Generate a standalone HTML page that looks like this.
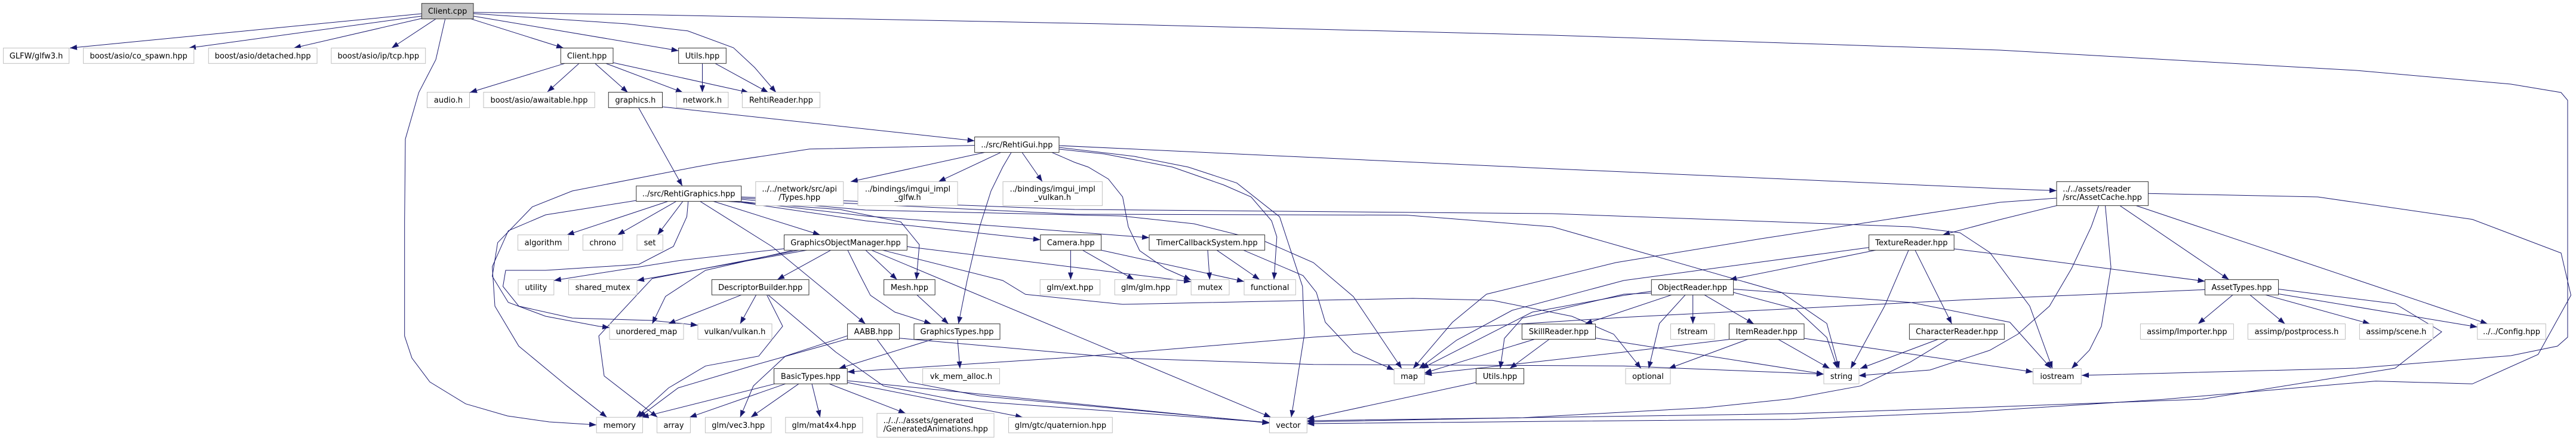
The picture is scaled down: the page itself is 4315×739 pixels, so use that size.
<!DOCTYPE html>
<html><head><meta charset="utf-8"><style>
html,body{margin:0;padding:0;background:#fff;}
svg{display:block;}
text{font-family:"DejaVu Sans","Liberation Sans",sans-serif;font-size:13px;fill:#000;}
.g{fill:#fff;stroke:#bfbfbf;stroke-width:1;}
.b{fill:#fff;stroke:#333;stroke-width:1;}
.e{fill:none;stroke:#191970;stroke-width:1;marker-end:url(#a);}
</style></head><body>
<svg width="4315" height="739" viewBox="0 0 4315 739" xmlns="http://www.w3.org/2000/svg">
<defs><marker id="a" markerWidth="12" markerHeight="9" refX="12" refY="4.5" orient="auto" markerUnits="userSpaceOnUse"><path d="M0,0 L12,4.5 L0,9 z" fill="#191970"/></marker></defs>
<g>
<path class="e" d="M706,23 L117,80.5"/>
<path class="e" d="M706,27 L316,80.5"/>
<path class="e" d="M706,31 L492,80.5"/>
<path class="e" d="M730,31.7 L656,80.5"/>
<path class="e" d="M789,31.7 L944,80.5"/>
<path class="e" d="M745.7,31.7 L730,100 L701.5,155 L679,233 L677.7,370 L677.7,563 L690,600 L720,640 L780,676.7 L850,697 L920,707 L999,712"/>
<path class="e" d="M792.7,27 L1136.7,85"/>
<path class="e" d="M792.7,22.7 L1050,40 L1152,51.8 L1228.6,80 L1264,113 L1300,155"/>
<path class="e" d="M792.7,20.7 L1100,25 L1850,40 L2600,59 L3350,84 L3947,118 L4206,141 L4290,155 L4301,168 L4301,565 L4284,580 L4206,596 L3947,617 L3487,629"/>
<path class="e" d="M946,106.3 L787,155"/>
<path class="e" d="M970,106.3 L917,154"/>
<path class="e" d="M996.7,106.3 L1051.7,155"/>
<path class="e" d="M1015,106.3 L1144,155"/>
<path class="e" d="M1027,105 L1254,155"/>
<path class="e" d="M1176.5,106.3 L1176.5,155"/>
<path class="e" d="M1198,106.3 L1287,155"/>
<path class="e" d="M1109.7,179 L1632.6,236"/>
<path class="e" d="M1070,181 L1143,311.7"/>
<path class="e" d="M1649.5,255.4 L1425,304.4"/>
<path class="e" d="M1676.5,255.4 L1572,304.4"/>
<path class="e" d="M1712,255.4 L1746,304.4"/>
<path class="e" d="M1694,255.4 L1679.6,280 L1660,320 L1641,380 L1620,470 L1605.5,542.7"/>
<path class="e" d="M1632.6,243.6 L1356,249.8 L1203,273 L1164,280 L958.6,320 L891.6,346.7 L833.6,406.7 L824.6,463 L851.4,506.7 L914,530 L1003,546.7 L1021,549"/>
<path class="e" d="M1762,255.4 L1800,272 L1823,280 L1856.6,300 L1880.5,330 L1890,380 L1909,420 L1952,450 L1995,469"/>
<path class="e" d="M1774,250 L1850,258 L1964,280 L2050,310 L2095.7,330 L2130,370 L2138.8,397 L2134,468.6"/>
<path class="e" d="M1774,247 L1900,262 L1990.5,280 L2071.8,306.7 L2143.5,363.3 L2181.8,480 L2185,560 L2163,699.3"/>
<path class="e" d="M1774,244 L2600,282.7 L3350,316 L3445,319.5"/>
<path class="e" d="M1119,337.4 L949.6,393.6"/>
<path class="e" d="M1132.7,337.4 L1034.5,393.6"/>
<path class="e" d="M1143.8,337.4 L1101.4,393.6"/>
<path class="e" d="M1065.8,336 L914,360 L851.4,386.7 L824.6,446.7 L829,513 L869,580 L949.6,646.7 L1016.6,699.3"/>
<path class="e" d="M1152.8,337.4 L1150.5,363 L1128,413 L1070,443 L914,453 L847,453 L842.5,480 L869,513 L958.6,533 L1092.5,537 L1169,545"/>
<path class="e" d="M1172.8,337.4 L1293,413 L1382.7,486.7 L1449.6,542.7"/>
<path class="e" d="M1195,337.4 L1373.8,393.6"/>
<path class="e" d="M1218,337.4 L1407,351 L1509,372 L1540,410 L1535,468.6"/>
<path class="e" d="M1230,337.4 L1450,370 L1742.8,401.7"/>
<path class="e" d="M1236,337 L1450,362 L1925,398.3"/>
<path class="e" d="M1241.7,334 L1450,352 L1880,362 L2000,375 L2120,405 L2200,440 L2267,497 L2348,617.6"/>
<path class="e" d="M1241.7,332 L1800,359 L2356,360.5 L2600,380 L2754,424 L2984,490 L3060,542 L3080.6,617.6"/>
<path class="e" d="M1241.7,330 L1800,351 L2600,358 L3200,380 L3283,390 L3333,423 L3400,513 L3438,617.6"/>
<path class="e" d="M1313.5,416.7 L1137,436.7 L927.8,470"/>
<path class="e" d="M1351.4,419.3 L1067,470"/>
<path class="e" d="M1329,419.3 L1181.8,453 L1114.8,496.7 L1092.5,542.7"/>
<path class="e" d="M1338,419.3 L1092.5,466.7 L1003,563 L1012,630 L1101.4,699.3"/>
<path class="e" d="M1391.6,419.3 L1302,468.6"/>
<path class="e" d="M1450,419.3 L1502.6,468.6"/>
<path class="e" d="M1420,419.3 L1440,460 L1458,494.8 L1499,523 L1560,542.7"/>
<path class="e" d="M1519.4,413.3 L1995.2,472"/>
<path class="e" d="M1478.7,419.3 L1679.6,470 L1717.8,493.3 L1880.5,510 L2200,503.3 L2366.7,500 L2500,503.3 L2633,530 L2703,560 L2749,617.6"/>
<path class="e" d="M1460,419.3 L2129,699.3"/>
<path class="e" d="M1242,494.2 L1119.3,542.7"/>
<path class="e" d="M1266.6,494.2 L1239.8,542.7"/>
<path class="e" d="M1284.5,494.2 L1311,546.7 L1271,596.7 L1181.8,613.3 L1120,650 L1065.7,699.3"/>
<path class="e" d="M1286.7,494.2 L1400,590 L1480,646.7 L1600,670 L2126.4,708"/>
<path class="e" d="M1419.6,562.7 L1315.7,596.7 L1262,646.7 L1239.8,699.3"/>
<path class="e" d="M1419.6,568 L1270,610 L1136,650 L1070,699.3"/>
<path class="e" d="M1469,568.6 L1521.7,640 L1641.3,663.3 L2126.4,708.3"/>
<path class="e" d="M1506.5,566.7 L1880.5,600 L2200,610.7 L2720,613.3 L3055,627"/>
<path class="e" d="M1562.4,568.6 L1405,617.6"/>
<path class="e" d="M1604,568.6 L1608,617.6"/>
<path class="e" d="M1536,494.2 L1588.7,542.7"/>
<path class="e" d="M1297.9,643.2 L1074.6,699.3"/>
<path class="e" d="M1315.7,643.2 L1155,699.3"/>
<path class="e" d="M1338,643.2 L1257.7,699.3"/>
<path class="e" d="M1360,643.2 L1373.8,699.3"/>
<path class="e" d="M1389,643.2 L1517,692.7"/>
<path class="e" d="M1419.3,641 L1713,699.3"/>
<path class="e" d="M1419.3,638 L2126.4,709"/>
<path class="e" d="M1793.4,419.3 L1793.4,468.6"/>
<path class="e" d="M1813.5,419.3 L1899.6,468.6"/>
<path class="e" d="M1844.6,419.3 L2084,471.7"/>
<path class="e" d="M2023,419.3 L2026.4,468.6"/>
<path class="e" d="M2038.3,419.3 L2110,468.6"/>
<path class="e" d="M2083,419.3 L2182.7,461.8 L2205,490 L2220,540 L2267,590 L2335.2,620"/>
<path class="e" d="M3445,332 L3350,339 L2950,400 L2706.7,440 L2490,493 L2433,540 L2367,617.6"/>
<path class="e" d="M3445,344.6 L3350,368 L3254,393.6"/>
<path class="e" d="M3515.5,344.6 L3503,380 L3470,450 L3433,513 L3380,560 L3333,587 L3233,620 L3113.3,629.5"/>
<path class="e" d="M3526.5,344.6 L3536,447.7 L3520,546.7 L3500,586.7 L3470,617.6"/>
<path class="e" d="M3551,344.6 L3733.7,468.6"/>
<path class="e" d="M3578.3,344.6 L4167,542.7"/>
<path class="e" d="M3598.4,324.2 L3882.5,330 L4141.4,367.6 L4290,424 L4306.5,494.8 L4251.5,594 L4141.4,643.3 L3979.6,638.6 L3623.6,669.2 L3300,690.4 L3000,702.7 L2600,706 L2189.3,710"/>
<path class="e" d="M3740,494.2 L3682,542.7"/>
<path class="e" d="M3769,494.2 L3827.5,542.7"/>
<path class="e" d="M3795,494.2 L3970,542.7"/>
<path class="e" d="M3816.5,492.5 L4149.8,548"/>
<path class="e" d="M3693.5,485.4 L3300,502 L2720,531.7 L2200,565 L1800,598.5 L1419.3,623.3"/>
<path class="e" d="M3816.5,484.5 L4012,509 L4090,556 L4012,617 L3688,669 L3300,683.3 L3000,693.3 L2550,700 L2189.3,705"/>
<path class="e" d="M3141.8,419.3 L2897,468.6"/>
<path class="e" d="M3197,419.3 L3156.7,513.3 L3100,617.6"/>
<path class="e" d="M3208,419.3 L3269.4,542.7"/>
<path class="e" d="M3130.6,414.7 L2720,470 L2533,520 L2440,570 L2377,617.6"/>
<path class="e" d="M3273,417 L3350,426.5 L3693.5,471.3"/>
<path class="e" d="M2800,494.2 L2655,542.7"/>
<path class="e" d="M2835.7,494.2 L2835.7,542.7"/>
<path class="e" d="M2855,494.2 L2937.8,542.7"/>
<path class="e" d="M2823,494.2 L2779.6,542 L2761.7,617.6"/>
<path class="e" d="M2903.6,490 L3009,518 L3060,565.5 L3078,617.6"/>
<path class="e" d="M2903.6,484.5 L3200,506.7 L3366.7,540 L3436,617.6"/>
<path class="e" d="M2766.3,488 L2720,495 L2566.7,523 L2381,617.6"/>
<path class="e" d="M2766.3,491 L2720,493 L2550,533 L2520,567 L2513,617.6"/>
<path class="e" d="M2672.4,566.5 L3055,627"/>
<path class="e" d="M2570,568.6 L2386,625"/>
<path class="e" d="M2595,568.6 L2529,617.6"/>
<path class="e" d="M2927.6,568.6 L2795,617.6"/>
<path class="e" d="M2978.6,568.6 L3065,617.6"/>
<path class="e" d="M2896.4,568.8 L2720,590 L2386.2,627"/>
<path class="e" d="M3020,566.7 L3405.5,623.3"/>
<path class="e" d="M3246.4,568.6 L3116,617.6"/>
<path class="e" d="M3263,568.6 L3200,606.7 L3116.7,646.7 L3000,668.3 L2856,683.3 L2550,700 L2189.3,707"/>
<path class="e" d="M2472.4,641 L2189.3,702"/>
</g>
<g>
<rect x="706.4" y="5.7" width="86.6" height="26" fill="#bfbfbf" stroke="#333"/>
<text x="749.7" y="23.2" text-anchor="middle">Client.cpp</text>

<rect class="g" x="5.6" y="80.5" width="110.1" height="25.8"/><text x="60.6" y="97.9" text-anchor="middle">GLFW/glfw3.h</text>
<rect class="g" x="139.6" y="80.5" width="185.2" height="25.8"/><text x="232.2" y="97.9" text-anchor="middle">boost/asio/co_spawn.hpp</text>
<rect class="g" x="349.3" y="80.5" width="181.8" height="25.8"/><text x="440.2" y="97.9" text-anchor="middle">boost/asio/detached.hpp</text>
<rect class="g" x="554.9" y="80.5" width="157.8" height="25.8"/><text x="633.8" y="97.9" text-anchor="middle">boost/asio/ip/tcp.hpp</text>
<rect class="b" x="939.3" y="80.5" width="87.7" height="25.8"/><text x="983.1" y="97.9" text-anchor="middle">Client.hpp</text>
<rect class="b" x="1136.7" y="80.5" width="79.6" height="25.8"/><text x="1176.5" y="97.9" text-anchor="middle">Utils.hpp</text>

<rect class="g" x="715.5" y="154.5" width="71" height="26"/><text x="751" y="172" text-anchor="middle">audio.h</text>
<rect class="g" x="810" y="154.5" width="186.2" height="26"/><text x="903" y="172" text-anchor="middle">boost/asio/awaitable.hpp</text>
<rect class="b" x="1019.3" y="154.5" width="90.2" height="26"/><text x="1064.4" y="172" text-anchor="middle">graphics.h</text>
<rect class="g" x="1133.2" y="154.5" width="86.7" height="26"/><text x="1176.5" y="172" text-anchor="middle">network.h</text>
<rect class="g" x="1243.4" y="154.5" width="130.1" height="26"/><text x="1308.4" y="172" text-anchor="middle">RehtiReader.hpp</text>

<rect class="b" x="1632.6" y="229.5" width="141.4" height="25.9"/><text x="1703.3" y="247" text-anchor="middle">../src/RehtiGui.hpp</text>

<rect class="b" x="1065.8" y="311.7" width="175.9" height="25.7"/><text x="1153.7" y="329" text-anchor="middle">../src/RehtiGraphics.hpp</text>
<rect class="g" x="1265.8" y="304.4" width="146.9" height="40.2"/><text x="1339.2" y="321" text-anchor="middle">../../network/src/api</text><text x="1339.2" y="335" text-anchor="middle">/Types.hpp</text>
<rect class="g" x="1437" y="304.4" width="167" height="40.2"/><text x="1520.5" y="321" text-anchor="middle">../bindings/imgui_impl</text><text x="1520.5" y="335" text-anchor="middle">_glfw.h</text>
<rect class="g" x="1680" y="304.4" width="166.4" height="40.2"/><text x="1763.2" y="321" text-anchor="middle">../bindings/imgui_impl</text><text x="1763.2" y="335" text-anchor="middle">_vulkan.h</text>
<rect class="b" x="3445" y="304.4" width="153.4" height="40.2"/><text x="3455.3" y="321">../../assets/reader</text><text x="3455.3" y="335">/src/AssetCache.hpp</text>

<rect class="g" x="867.5" y="393.6" width="85" height="25.7"/><text x="910" y="411" text-anchor="middle">algorithm</text>
<rect class="g" x="976.4" y="393.6" width="66.6" height="25.7"/><text x="1009.7" y="411" text-anchor="middle">chrono</text>
<rect class="g" x="1067" y="393.6" width="43.3" height="25.7"/><text x="1088.6" y="411" text-anchor="middle">set</text>
<rect class="b" x="1313.5" y="393.6" width="205.9" height="25.7"/><text x="1416.5" y="411" text-anchor="middle">GraphicsObjectManager.hpp</text>
<rect class="b" x="1742.8" y="393.6" width="101.8" height="25.7"/><text x="1793.7" y="411" text-anchor="middle">Camera.hpp</text>
<rect class="b" x="1925" y="393.6" width="193.6" height="25.7"/><text x="2021.8" y="411" text-anchor="middle">TimerCallbackSystem.hpp</text>
<rect class="b" x="3130.6" y="393.6" width="142.6" height="25.7"/><text x="3201.9" y="411" text-anchor="middle">TextureReader.hpp</text>

<rect class="g" x="868" y="468.6" width="59.8" height="25.6"/><text x="897.9" y="485.9" text-anchor="middle">utility</text>
<rect class="g" x="952.4" y="468.6" width="114.6" height="25.6"/><text x="1009.7" y="485.9" text-anchor="middle">shared_mutex</text>
<rect class="b" x="1192.4" y="468.6" width="162.6" height="25.6"/><text x="1273.7" y="485.9" text-anchor="middle">DescriptorBuilder.hpp</text>
<rect class="b" x="1480.6" y="468.6" width="85.6" height="25.6"/><text x="1523.4" y="485.9" text-anchor="middle">Mesh.hpp</text>
<rect class="g" x="1742.2" y="468.6" width="100.4" height="25.6"/><text x="1792.4" y="485.9" text-anchor="middle">glm/ext.hpp</text>
<rect class="g" x="1867.2" y="468.6" width="103.8" height="25.6"/><text x="1919.1" y="485.9" text-anchor="middle">glm/glm.hpp</text>
<rect class="g" x="1995.2" y="468.6" width="63.8" height="25.6"/><text x="2027.1" y="485.9" text-anchor="middle">mutex</text>
<rect class="g" x="2084" y="468.6" width="86.3" height="25.6"/><text x="2127.2" y="485.9" text-anchor="middle">functional</text>
<rect class="b" x="2766.3" y="468.6" width="137.3" height="25.6"/><text x="2835" y="485.9" text-anchor="middle">ObjectReader.hpp</text>
<rect class="b" x="3693.5" y="468.6" width="123" height="25.6"/><text x="3755" y="485.9" text-anchor="middle">AssetTypes.hpp</text>

<rect class="g" x="1021" y="542.7" width="124" height="25.9"/><text x="1083" y="560.2" text-anchor="middle">unordered_map</text>
<rect class="g" x="1169" y="542.7" width="124" height="25.9"/><text x="1231" y="560.2" text-anchor="middle">vulkan/vulkan.h</text>
<rect class="b" x="1419.6" y="542.7" width="86.9" height="25.9"/><text x="1463" y="560.2" text-anchor="middle">AABB.hpp</text>
<rect class="b" x="1531" y="542.7" width="144" height="25.9"/><text x="1603" y="560.2" text-anchor="middle">GraphicsTypes.hpp</text>
<rect class="b" x="2549.5" y="543" width="123" height="25.5"/><text x="2611" y="560.2" text-anchor="middle">SkillReader.hpp</text>
<rect class="g" x="2798.5" y="542.7" width="73.5" height="25.9"/><text x="2835.2" y="560.2" text-anchor="middle">fstream</text>
<rect class="b" x="2896.4" y="542.7" width="125.6" height="25.9"/><text x="2959.2" y="560.2" text-anchor="middle">ItemReader.hpp</text>
<rect class="b" x="3198.4" y="543" width="159" height="25.6"/><text x="3277.9" y="560.2" text-anchor="middle">CharacterReader.hpp</text>
<rect class="g" x="3585.4" y="542.7" width="156" height="25.9"/><text x="3663.4" y="560.2" text-anchor="middle">assimp/Importer.hpp</text>
<rect class="g" x="3765.4" y="542.7" width="163.1" height="25.9"/><text x="3847" y="560.2" text-anchor="middle">assimp/postprocess.h</text>
<rect class="g" x="3952.4" y="542.7" width="123" height="25.9"/><text x="4013.9" y="560.2" text-anchor="middle">assimp/scene.h</text>
<rect class="g" x="4149.8" y="542.7" width="114.6" height="25.9"/><text x="4207.1" y="560.2" text-anchor="middle">../../Config.hpp</text>

<rect class="b" x="1296.5" y="617.6" width="122.8" height="25.6"/><text x="1357.9" y="634.9" text-anchor="middle">BasicTypes.hpp</text>
<rect class="g" x="1545.6" y="617.6" width="128.8" height="25.6"/><text x="1610" y="634.9" text-anchor="middle">vk_mem_alloc.h</text>
<rect class="g" x="2335.2" y="617.6" width="51" height="25.6"/><text x="2360.7" y="634.9" text-anchor="middle">map</text>
<rect class="b" x="2472.6" y="617.6" width="80" height="25.6"/><text x="2512.6" y="634.9" text-anchor="middle">Utils.hpp</text>
<rect class="g" x="2723" y="617.6" width="75" height="25.6"/><text x="2760.5" y="634.9" text-anchor="middle">optional</text>
<rect class="g" x="3055" y="617.6" width="59" height="25.6"/><text x="3084.5" y="634.9" text-anchor="middle">string</text>
<rect class="g" x="3405.6" y="617.6" width="80.6" height="25.6"/><text x="3445.9" y="634.9" text-anchor="middle">iostream</text>

<rect class="g" x="999.2" y="699.3" width="77.2" height="26"/><text x="1037.8" y="716.8" text-anchor="middle">memory</text>
<rect class="g" x="1100.5" y="699.3" width="55.9" height="26"/><text x="1128.5" y="716.8" text-anchor="middle">array</text>
<rect class="g" x="1181.4" y="699.3" width="110.6" height="26"/><text x="1236.7" y="716.8" text-anchor="middle">glm/vec3.hpp</text>
<rect class="g" x="1315.8" y="699.3" width="129.2" height="26"/><text x="1380.4" y="716.8" text-anchor="middle">glm/mat4x4.hpp</text>
<rect class="g" x="1469" y="692.7" width="196" height="40"/><text x="1479.6" y="709">../../../assets/generated</text><text x="1479.6" y="723">/GeneratedAnimations.hpp</text>
<rect class="g" x="1689.5" y="699.3" width="173.8" height="26"/><text x="1776.4" y="716.8" text-anchor="middle">glm/gtc/quaternion.hpp</text>
<rect class="g" x="2126.4" y="699.3" width="62.9" height="26"/><text x="2157.9" y="716.8" text-anchor="middle">vector</text>
</g>
</svg>
</body></html>
